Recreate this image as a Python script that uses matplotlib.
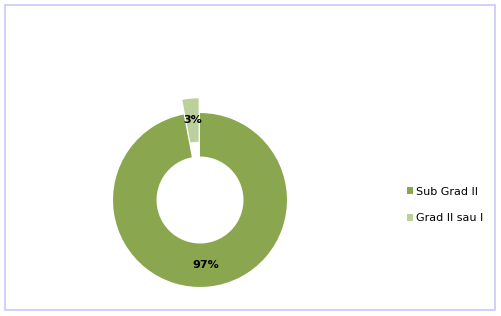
import matplotlib.pyplot as plt
from matplotlib.patches import Rectangle

# Data
categories = ['Sub Grad II', 'Grad II sau I']
values = [97, 3]
colors = ['#8AA64E', '#BBD09A']

W, H = 502, 316
fig = plt.figure(figsize=(W / 100, H / 100), dpi=100)

# light frame around the chart
fig.patches.append(Rectangle((5 / W, 6 / H), 490 / W, 305 / H, transform=fig.transFigure,
                             fill=False, edgecolor='#C8C8FA', linewidth=1.2))

# donut axes centred at (200, 200) px, 87 px radius
ax = fig.add_axes([100 / W, 16 / H, 200 / W, 200 / H])
wedges, texts, autotexts = ax.pie(values, colors=colors, startangle=90, counterclock=False,
                                  explode=[0, 0.17], autopct='%1.0f%%', pctdistance=0.75,
                                  wedgeprops=dict(width=0.5, edgecolor='none'),
                                  textprops=dict(fontsize=8, fontweight='bold', color='black'))
ax.set_xlim(-1.15, 1.15)
ax.set_ylim(-1.15, 1.15)
ax.set_aspect('equal')
ax.axis('off')

leg = fig.legend(wedges, categories, loc='center left', bbox_to_anchor=(397 / W, 1 - 205 / H),
                 frameon=False, fontsize=8, handlelength=0.55, handleheight=0.55,
                 handletextpad=0.3, labelspacing=1.5)

plt.savefig('out.png', dpi=100)
